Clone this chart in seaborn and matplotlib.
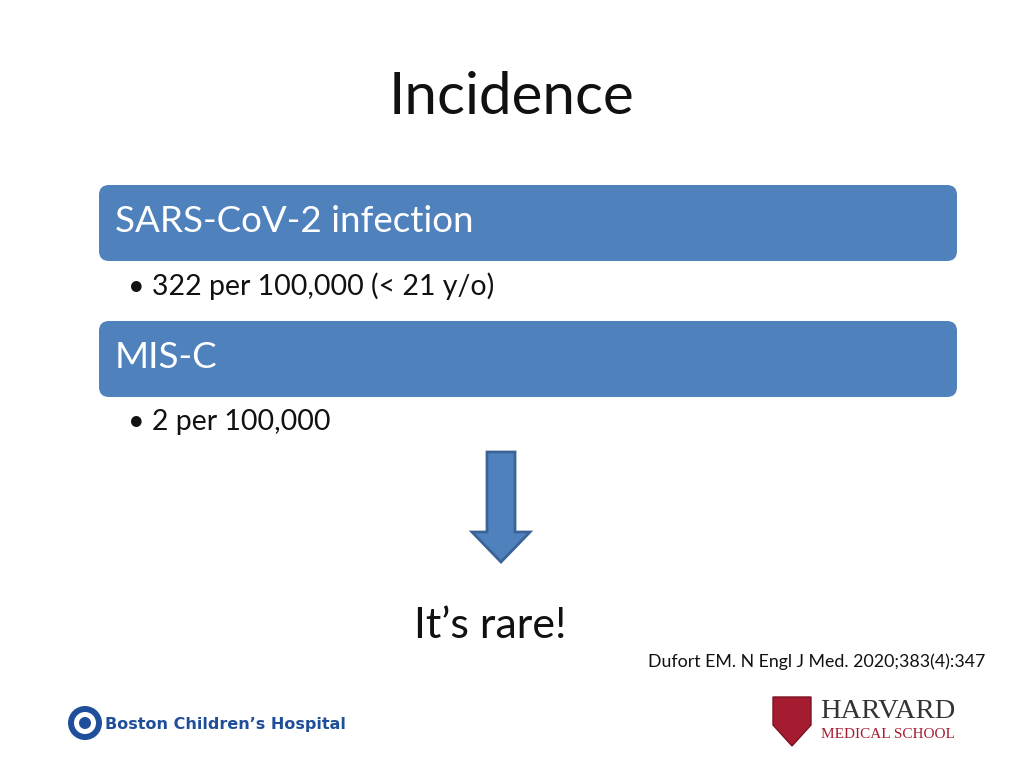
import matplotlib
matplotlib.use("Agg")
import matplotlib.pyplot as plt
import seaborn as sns
from matplotlib.patches import FancyBboxPatch, Polygon, Circle

# --- slide content ---
title = "Incidence"
headers = ["SARS-CoV-2 infection", "MIS-C"]
bullets = ["322 per 100,000 (< 21 y/o)", "2 per 100,000"]
conclusion = "It\u2019s rare!"
citation = "Dufort EM. N Engl J Med. 2020;383(4):347"

BOX_BLUE = "#4F81BD"
EDGE_BLUE = "#3B6496"
FONT = "Lato"

sns.set_theme(style="white")
fig = plt.figure(figsize=(10.24, 7.68), dpi=100)
ax = fig.add_axes([0, 0, 1, 1])
ax.set_xlim(0, 1024)
ax.set_ylim(768, 0)
ax.axis("off")

ax.text(512, 97, title, ha="center", va="center", fontsize=42, family=FONT, color="#111111")

box_tops = [185, 321]
for top, head, bullet in zip(box_tops, headers, bullets):
    ax.add_patch(FancyBboxPatch((99, top), 858, 76, boxstyle="round,pad=0,rounding_size=10",
                                facecolor=BOX_BLUE, edgecolor="none"))
    ax.text(115, top + 37, head, ha="left", va="center", fontsize=26.5, family=FONT, color="white")
    ax.text(128, top + 101, "\u2022 " + bullet, ha="left", va="center", fontsize=20.5,
            family=FONT, color="#111111")

# down arrow
ax.add_patch(Polygon([(487, 452), (515, 452), (515, 532), (530, 532), (501, 562),
                      (472, 532), (487, 532)], closed=True, facecolor=BOX_BLUE,
                     edgecolor=EDGE_BLUE, linewidth=2))

ax.text(490, 626, conclusion, ha="center", va="center", fontsize=31, family=FONT, color="#111111")
ax.text(985, 662, citation, ha="right", va="center", fontsize=12.8, family=FONT, color="#111111")

# Boston Children's Hospital logo (approximation)
ax.add_patch(Circle((85, 723), 17, facecolor="#1F4E9A", edgecolor="none"))
ax.add_patch(Circle((85, 723), 11, facecolor="white", edgecolor="none"))
ax.add_patch(Circle((85, 723), 6, facecolor="#1F4E9A", edgecolor="none"))
ax.text(105, 724, "Boston Children\u2019s Hospital", ha="left", va="center", fontsize=11.5,
        fontweight="bold", family="DejaVu Sans", color="#1F4E9A")

# Harvard Medical School logo (approximation)
ax.add_patch(Polygon([(773, 697), (811, 697), (811, 725), (792, 746), (773, 725)],
                     closed=True, facecolor="#A51C30", edgecolor="#7a1422"))
ax.text(820, 712, "HARVARD", ha="left", va="center", fontsize=20.5, family="Liberation Serif",
        color="#333333")
ax.text(821, 734, "MEDICAL SCHOOL", ha="left", va="center", fontsize=11,
        family="Liberation Serif", color="#A51C30")

fig.savefig("out.png", dpi=100, facecolor="white")
